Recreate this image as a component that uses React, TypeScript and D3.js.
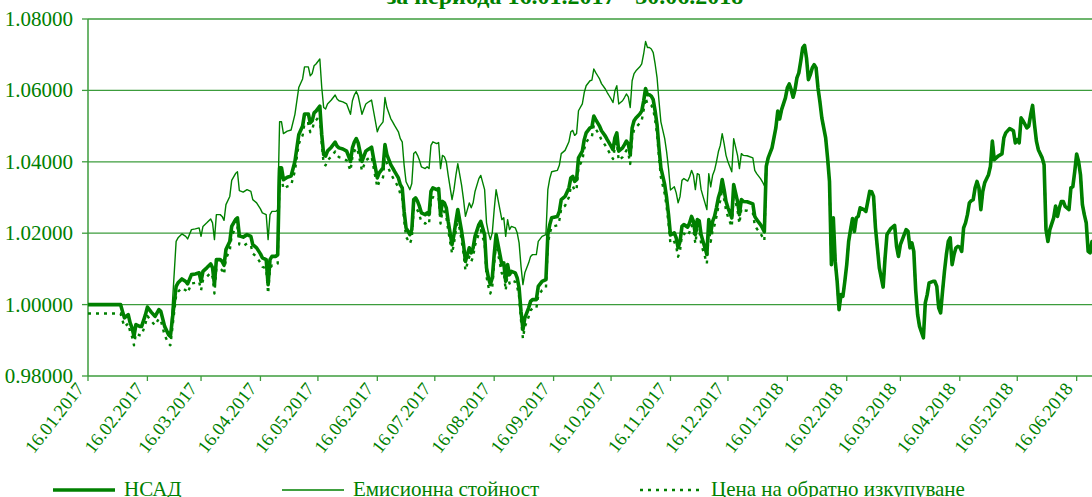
import React from "react";
import * as d3 from "d3";

const title = "за периода 16.01.2017 - 30.06.2018";
const startDate = new Date(2017, 0, 16);
const endDate = new Date(2018, 5, 30);

const tickLabels = [
  "16.01.2017", "16.02.2017", "16.03.2017", "16.04.2017", "16.05.2017", "16.06.2017",
  "16.07.2017", "16.08.2017", "16.09.2017", "16.10.2017", "16.11.2017", "16.12.2017",
  "16.01.2018", "16.02.2018", "16.03.2018", "16.04.2018", "16.05.2018", "16.06.2018",
];
const yTicks = [0.98, 1.0, 1.02, 1.04, 1.06, 1.08];

// days after 16.01.2017 - 2017, with issue / redemption fees
const daysA = [
  0, 17, 18, 19, 21, 22, 23, 24, 25, 27, 28, 30, 31, 33, 35, 37, 38, 40, 42, 43,
  46, 47, 49, 51, 52, 54, 56, 58, 59, 60, 62, 64, 65, 66, 67, 69, 70, 71, 72, 74,
  75, 77, 78, 79, 81, 83, 85, 86, 88, 90, 91, 93, 94, 95, 96, 98, 99,
  100, 101, 102, 104, 106, 108, 110, 112, 113, 115, 116, 117, 118, 119, 121, 122, 123, 124, 125,
  127, 129, 130, 131, 133, 135, 137, 138, 139, 140, 141, 143, 144, 145, 146, 148, 149,
  151, 152, 154, 155, 156, 158, 159, 160, 162, 163, 164, 165, 166, 168, 169,
  170, 171, 172, 173, 174, 176, 177, 178, 179, 180, 182, 183, 184, 185, 186, 187, 188,
  190, 191, 192, 193, 195, 196, 197, 198, 199, 200, 201, 202, 204, 205, 207, 208, 209, 210, 211,
  212, 213, 215, 216, 217, 218, 219, 220, 221, 223, 224, 225, 226, 227, 228, 230, 231, 232, 234, 235, 237, 239,
  240, 241, 242, 245, 246, 247, 249, 251, 252, 253, 254, 255, 256, 258, 259, 260, 262, 263, 264, 265, 266, 267, 268,
  270, 271, 272, 273, 274, 275, 276, 277, 279, 280, 281, 282, 283, 284, 285, 286, 288, 289,
  290, 291, 292, 293, 294, 295, 296, 297, 298, 299, 301, 302, 303, 304, 306, 307, 308, 309,
  310, 311, 313, 314, 315, 316, 317, 318, 319, 320, 321, 322, 323, 324, 325, 326, 327, 328, 329,
  330, 331, 332, 333, 334, 335, 336, 337, 339, 340, 341, 342, 344, 347, 348, 349, 351, 352, 353,
];
const nsadA = [
  1.0000, 1.0000, 0.9981, 0.9963, 0.9972, 0.9949, 0.9935, 0.9911, 0.9944, 0.9939, 0.9939, 0.9972, 0.9993, 0.9979, 0.9967, 0.9986, 0.9981, 0.9939, 0.9916, 0.9911,
  1.0051, 1.0061, 1.0072, 1.0065, 1.0058, 1.0084, 1.0086, 1.0089, 1.0065, 1.0093, 1.0103, 1.0114, 1.0103, 1.0056, 1.0126, 1.0126, 1.0121, 1.0110, 1.0154, 1.0177,
  1.0219, 1.0238, 1.0243, 1.0193, 1.0189, 1.0196, 1.0191, 1.0168, 1.0159, 1.0142, 1.0131, 1.0126, 1.0056, 1.0126, 1.0135, 1.0135, 1.0140,
  1.0383, 1.0383, 1.0350, 1.0357, 1.0360, 1.0401, 1.0476, 1.0500, 1.0534, 1.0534, 1.0509, 1.0515, 1.0537, 1.0542, 1.0556, 1.0476, 1.0420, 1.0416, 1.0430,
  1.0441, 1.0455, 1.0444, 1.0439, 1.0436, 1.0430, 1.0401, 1.0439, 1.0455, 1.0465, 1.0453, 1.0401, 1.0416, 1.0430, 1.0434, 1.0441, 1.0411,
  1.0355, 1.0369, 1.0383, 1.0448, 1.0420, 1.0392, 1.0383, 1.0373, 1.0355, 1.0336, 1.0327, 1.0261, 1.0215, 1.0196, 1.0210,
  1.0294, 1.0299, 1.0289, 1.0275, 1.0257, 1.0252, 1.0257, 1.0252, 1.0317, 1.0327, 1.0322, 1.0325, 1.0252, 1.0289, 1.0285, 1.0271, 1.0233,
  1.0168, 1.0196, 1.0233, 1.0266, 1.0205, 1.0168, 1.0121, 1.0140, 1.0159, 1.0145, 1.0159, 1.0191, 1.0224, 1.0233, 1.0196, 1.0103, 1.0075, 1.0056, 1.0075,
  1.0140, 1.0196, 1.0140, 1.0112, 1.0117, 1.0065, 1.0112, 1.0084, 1.0093, 1.0089, 1.0075, 1.0047, 0.9981, 0.9930, 0.9963, 0.9991, 1.0009, 1.0014, 1.0014, 1.0051, 1.0065, 1.0070,
  1.0196, 1.0224, 1.0243, 1.0247, 1.0261, 1.0294, 1.0303, 1.0327, 1.0355, 1.0359, 1.0345, 1.0350, 1.0411, 1.0430, 1.0462, 1.0481, 1.0495, 1.0497, 1.0528, 1.0518, 1.0509, 1.0500, 1.0487,
  1.0472, 1.0462, 1.0453, 1.0444, 1.0434, 1.0467, 1.0481, 1.0430, 1.0439, 1.0448, 1.0458, 1.0450, 1.0420, 1.0495, 1.0515, 1.0523, 1.0534, 1.0542,
  1.0570, 1.0605, 1.0588, 1.0588, 1.0584, 1.0574, 1.0542, 1.0504, 1.0439, 1.0383, 1.0336, 1.0299, 1.0252, 1.0195, 1.0201, 1.0187, 1.0159, 1.0177,
  1.0219, 1.0224, 1.0217, 1.0229, 1.0247, 1.0233, 1.0196, 1.0238, 1.0235, 1.0196, 1.0177, 1.0159, 1.0140, 1.0238, 1.0201, 1.0233, 1.0247, 1.0271, 1.0299,
  1.0317, 1.0350, 1.0322, 1.0289, 1.0271, 1.0257, 1.0243, 1.0336, 1.0289, 1.0252, 1.0294, 1.0289, 1.0288, 1.0282, 1.0247, 1.0238, 1.0224, 1.0215, 1.0204,
];
const emissionA = [
  1.0000, 1.0000, 0.9981, 0.9963, 0.9972, 0.9949, 0.9935, 0.9911, 0.9944, 0.9939, 0.9939, 0.9972, 0.9993, 0.9979, 0.9967, 0.9986, 0.9981, 0.9939, 0.9916, 0.9911,
  1.0177, 1.0187, 1.0198, 1.0191, 1.0184, 1.0210, 1.0212, 1.0215, 1.0191, 1.0219, 1.0229, 1.0240, 1.0229, 1.0182, 1.0252, 1.0252, 1.0247, 1.0236, 1.0280, 1.0303,
  1.0348, 1.0367, 1.0372, 1.0319, 1.0315, 1.0322, 1.0317, 1.0294, 1.0285, 1.0268, 1.0257, 1.0252, 1.0182, 1.0252, 1.0261, 1.0261, 1.0266,
  1.0512, 1.0512, 1.0479, 1.0486, 1.0489, 1.0533, 1.0608, 1.0632, 1.0666, 1.0666, 1.0641, 1.0647, 1.0669, 1.0674, 1.0688, 1.0608, 1.0552, 1.0548, 1.0562,
  1.0573, 1.0587, 1.0576, 1.0571, 1.0568, 1.0562, 1.0533, 1.0571, 1.0587, 1.0597, 1.0585, 1.0533, 1.0548, 1.0562, 1.0566, 1.0573, 1.0543,
  1.0484, 1.0498, 1.0512, 1.0580, 1.0552, 1.0521, 1.0512, 1.0502, 1.0484, 1.0465, 1.0456, 1.0390, 1.0344, 1.0322, 1.0339,
  1.0423, 1.0428, 1.0418, 1.0404, 1.0386, 1.0381, 1.0386, 1.0381, 1.0446, 1.0456, 1.0451, 1.0454, 1.0381, 1.0418, 1.0414, 1.0400, 1.0362,
  1.0294, 1.0322, 1.0362, 1.0395, 1.0334, 1.0294, 1.0247, 1.0266, 1.0285, 1.0271, 1.0285, 1.0317, 1.0353, 1.0362, 1.0322, 1.0229, 1.0201, 1.0182, 1.0201,
  1.0266, 1.0322, 1.0266, 1.0238, 1.0243, 1.0191, 1.0238, 1.0210, 1.0219, 1.0215, 1.0201, 1.0173, 1.0107, 1.0056, 1.0089, 1.0117, 1.0135, 1.0140, 1.0140, 1.0177, 1.0191, 1.0196,
  1.0322, 1.0353, 1.0372, 1.0376, 1.0390, 1.0423, 1.0432, 1.0456, 1.0484, 1.0488, 1.0474, 1.0479, 1.0543, 1.0562, 1.0594, 1.0613, 1.0627, 1.0629, 1.0660, 1.0650, 1.0641, 1.0632, 1.0619,
  1.0604, 1.0594, 1.0585, 1.0576, 1.0566, 1.0599, 1.0613, 1.0562, 1.0571, 1.0580, 1.0590, 1.0582, 1.0552, 1.0627, 1.0647, 1.0655, 1.0666, 1.0674,
  1.0702, 1.0737, 1.0720, 1.0720, 1.0716, 1.0706, 1.0674, 1.0636, 1.0571, 1.0512, 1.0465, 1.0428, 1.0381, 1.0321, 1.0330, 1.0313, 1.0285, 1.0303,
  1.0348, 1.0353, 1.0346, 1.0358, 1.0376, 1.0362, 1.0322, 1.0367, 1.0364, 1.0322, 1.0303, 1.0285, 1.0266, 1.0367, 1.0330, 1.0362, 1.0376, 1.0400, 1.0428,
  1.0446, 1.0479, 1.0451, 1.0418, 1.0400, 1.0386, 1.0372, 1.0465, 1.0418, 1.0381, 1.0423, 1.0418, 1.0417, 1.0411, 1.0376, 1.0367, 1.0353, 1.0344, 1.0333,
];
const redemptionA = [
  0.9975, 0.9975, 0.9956, 0.9938, 0.9947, 0.9924, 0.9910, 0.9886, 0.9919, 0.9914, 0.9914, 0.9947, 0.9968, 0.9954, 0.9942, 0.9961, 0.9956, 0.9914, 0.9891, 0.9886,
  1.0026, 1.0036, 1.0047, 1.0040, 1.0033, 1.0059, 1.0061, 1.0064, 1.0040, 1.0068, 1.0078, 1.0089, 1.0078, 1.0031, 1.0101, 1.0101, 1.0096, 1.0085, 1.0129, 1.0152,
  1.0194, 1.0213, 1.0218, 1.0168, 1.0164, 1.0171, 1.0166, 1.0143, 1.0134, 1.0117, 1.0106, 1.0101, 1.0031, 1.0101, 1.0110, 1.0110, 1.0115,
  1.0357, 1.0357, 1.0324, 1.0331, 1.0334, 1.0375, 1.0450, 1.0474, 1.0508, 1.0508, 1.0483, 1.0489, 1.0511, 1.0516, 1.0530, 1.0450, 1.0394, 1.0390, 1.0404,
  1.0415, 1.0429, 1.0418, 1.0413, 1.0410, 1.0404, 1.0375, 1.0413, 1.0429, 1.0439, 1.0427, 1.0375, 1.0390, 1.0404, 1.0408, 1.0415, 1.0385,
  1.0329, 1.0343, 1.0357, 1.0422, 1.0394, 1.0366, 1.0357, 1.0347, 1.0329, 1.0310, 1.0301, 1.0236, 1.0190, 1.0171, 1.0185,
  1.0269, 1.0274, 1.0264, 1.0250, 1.0232, 1.0227, 1.0232, 1.0227, 1.0291, 1.0301, 1.0296, 1.0299, 1.0227, 1.0264, 1.0260, 1.0246, 1.0208,
  1.0143, 1.0171, 1.0208, 1.0241, 1.0180, 1.0143, 1.0096, 1.0115, 1.0134, 1.0120, 1.0134, 1.0166, 1.0199, 1.0208, 1.0171, 1.0078, 1.0050, 1.0031, 1.0050,
  1.0115, 1.0171, 1.0115, 1.0087, 1.0092, 1.0040, 1.0087, 1.0059, 1.0068, 1.0064, 1.0050, 1.0022, 0.9956, 0.9905, 0.9938, 0.9966, 0.9984, 0.9989, 0.9989, 1.0026, 1.0040, 1.0045,
  1.0171, 1.0199, 1.0218, 1.0222, 1.0236, 1.0269, 1.0277, 1.0301, 1.0329, 1.0333, 1.0319, 1.0324, 1.0385, 1.0404, 1.0436, 1.0455, 1.0469, 1.0471, 1.0502, 1.0492, 1.0483, 1.0474, 1.0461,
  1.0446, 1.0436, 1.0427, 1.0418, 1.0408, 1.0441, 1.0455, 1.0404, 1.0413, 1.0422, 1.0432, 1.0424, 1.0394, 1.0469, 1.0489, 1.0497, 1.0508, 1.0516,
  1.0544, 1.0579, 1.0562, 1.0562, 1.0558, 1.0548, 1.0516, 1.0478, 1.0413, 1.0357, 1.0310, 1.0274, 1.0227, 1.0170, 1.0176, 1.0162, 1.0134, 1.0152,
  1.0194, 1.0199, 1.0192, 1.0204, 1.0222, 1.0208, 1.0171, 1.0213, 1.0210, 1.0171, 1.0152, 1.0134, 1.0115, 1.0213, 1.0176, 1.0208, 1.0222, 1.0246, 1.0274,
  1.0291, 1.0324, 1.0296, 1.0264, 1.0246, 1.0232, 1.0218, 1.0310, 1.0264, 1.0227, 1.0269, 1.0264, 1.0263, 1.0257, 1.0222, 1.0213, 1.0199, 1.0190, 1.0179,
];

// 2018 - all three prices are equal
const daysB = [
  354, 355, 357, 358, 359, 360, 361, 362, 364, 365, 366, 367, 368, 369, 370, 371, 372, 373, 374, 375, 376, 377, 378, 379, 380,
  381, 382, 383, 384, 385, 386, 387, 388, 389, 390, 391, 392, 393, 394, 395, 396, 397, 398, 399, 400, 401, 402, 403, 405, 406, 407, 408, 409, 410,
  411, 412, 413, 415, 416, 417, 418, 419, 421, 422, 423, 424, 426, 427, 428, 429, 430, 431, 432, 433, 434, 436, 437, 438, 439,
  441, 442, 443, 444, 445, 446, 447, 448, 449, 450, 451, 452, 453, 454, 455, 456, 457, 458, 459, 460, 461, 462, 463, 464, 465, 466, 467, 468,
  470, 471, 472, 473, 474, 475, 477, 478, 479, 481, 482, 483, 484, 485, 486, 487, 488, 490, 491, 492, 493, 494, 495, 496, 498, 499,
  500, 501, 502, 504, 505, 506, 507, 508, 509, 510, 512, 513, 514, 515, 516, 517, 518, 519, 520, 521, 522, 523, 524, 527,
];
const nsadB = [
  1.0387, 1.0411, 1.0439, 1.0467, 1.0495, 1.0542, 1.0520, 1.0546, 1.0579, 1.0607, 1.0618, 1.0602, 1.0581, 1.0602, 1.0635, 1.0649, 1.0682, 1.0719, 1.0726, 1.0691, 1.0630, 1.0644, 1.0663, 1.0672, 1.0663,
  1.0607, 1.0568, 1.0523, 1.0495, 1.0467, 1.0411, 1.0345, 1.0112, 1.0243, 1.0121, 1.0065, 0.9986, 1.0028, 1.0023, 1.0065, 1.0112, 1.0177, 1.0210, 1.0241, 1.0205, 1.0243, 1.0247, 1.0271, 1.0266, 1.0261, 1.0289, 1.0317, 1.0316, 1.0303,
  1.0215, 1.0159, 1.0103, 1.0049, 1.0130, 1.0196, 1.0205, 1.0213, 1.0222, 1.0163, 1.0135, 1.0168, 1.0196, 1.0210, 1.0205, 1.0159, 1.0173, 1.0149, 1.0040, 0.9972, 0.9939, 0.9907, 1.0005, 1.0028, 1.0061,
  1.0065, 1.0065, 1.0051, 0.9991, 0.9977, 1.0037, 1.0093, 1.0140, 1.0177, 1.0187, 1.0112, 1.0140, 1.0159, 1.0163, 1.0161, 1.0149, 1.0215, 1.0229, 1.0252, 1.0285, 1.0291, 1.0294, 1.0327, 1.0345, 1.0327, 1.0266, 1.0317, 1.0341,
  1.0364, 1.0387, 1.0458, 1.0406, 1.0411, 1.0416, 1.0422, 1.0467, 1.0481, 1.0493, 1.0490, 1.0487, 1.0453, 1.0462, 1.0453, 1.0523, 1.0515, 1.0495, 1.0500, 1.0532, 1.0558, 1.0504, 1.0458, 1.0434, 1.0411, 1.0392,
  1.0210, 1.0177, 1.0210, 1.0243, 1.0276, 1.0247, 1.0271, 1.0289, 1.0289, 1.0275, 1.0266, 1.0327, 1.0330, 1.0373, 1.0422, 1.0401, 1.0364, 1.0280, 1.0252, 1.0229, 1.0149, 1.0145, 1.0177, 1.0180,
];

const GREEN = "#008000";
const GRID = "#3c9c3c";
const FONT = "Liberation Serif, Times New Roman, serif";

const W = 1092;
const H = 497;
const x0 = 88;
const yTop = 19;
const yBottom = 376;

export default function App() {
  const parse = d3.timeParse("%d.%m.%Y");
  const days = [...daysA, ...daysB].map((d) => d3.timeDay.offset(startDate, d));

  const x = d3.scaleTime().domain([startDate, endDate]).range([x0, x0 + 530 * 1.916]);
  const y = d3.scaleLinear().domain([0.98, 1.08]).range([yBottom, yTop]);

  const series = [
    { name: "НСАД", values: [...nsadA, ...nsadB], width: 3.6, dash: undefined as string | undefined },
    { name: "Емисионна стойност", values: [...emissionA, ...nsadB], width: 1.4, dash: undefined },
    { name: "Цена на обратно изкупуване", values: [...redemptionA, ...nsadB], width: 2.4, dash: "3,5" },
  ];

  const line = d3
    .line<number>()
    .x((_, i) => x(days[i]))
    .y((v) => y(v));

  const legendX = [53, 282, 640];
  const textStyle = { fontFamily: FONT };

  return (
    <svg
      width={W}
      height={H}
      style={{ position: "absolute", left: 0, top: 0, background: "#fff" }}
    >
      <text x={565} y={4} textAnchor="middle" fontSize={24} fontWeight="bold" fill={GREEN} style={textStyle}>
        {title}
      </text>

      {/* grid + y axis */}
      {yTicks.map((t) => (
        <g key={t}>
          {t > 0.98 && (
            <line x1={x0} x2={W} y1={y(t)} y2={y(t)} stroke={GRID} strokeWidth={1.3} />
          )}
          <line x1={x0 - 6} x2={x0} y1={y(t)} y2={y(t)} stroke={GRID} strokeWidth={1.3} />
          <text x={73} y={y(t)} dy="0.33em" textAnchor="end" fontSize={21} fill={GREEN} style={textStyle}>
            {d3.format(".5f")(t)}
          </text>
        </g>
      ))}
      <line x1={x0} x2={x0} y1={yTop} y2={yBottom} stroke={GRID} strokeWidth={1.5} />
      <line x1={x0} x2={W} y1={yBottom} y2={yBottom} stroke={GRID} strokeWidth={1.5} />

      {/* x axis */}
      {tickLabels.map((lbl) => {
        const tx = x(parse(lbl) as Date);
        return (
          <g key={lbl}>
            <line x1={tx} x2={tx} y1={yBottom} y2={yBottom + 5} stroke={GRID} strokeWidth={1.3} />
            <text
              transform={`translate(${tx - 3},${yBottom + 13}) rotate(-52)`}
              textAnchor="end"
              fontSize={18.5}
              fill={GREEN}
              style={textStyle}
            >
              {lbl}
            </text>
          </g>
        );
      })}

      {/* series */}
      {series.map((s) => (
        <path
          key={s.name}
          d={line(s.values) ?? ""}
          fill="none"
          stroke={GREEN}
          strokeWidth={s.width}
          strokeDasharray={s.dash}
          strokeLinejoin="round"
        />
      ))}

      {/* legend */}
      {series.map((s, i) => (
        <g key={s.name} transform={`translate(${legendX[i]},490)`}>
          <line x1={0} x2={62} y1={0} y2={0} stroke={GREEN} strokeWidth={s.width} strokeDasharray={s.dash} />
          <text x={71} y={6} fontSize={21} fill={GREEN} style={textStyle}>
            {s.name}
          </text>
        </g>
      ))}
    </svg>
  );
}
